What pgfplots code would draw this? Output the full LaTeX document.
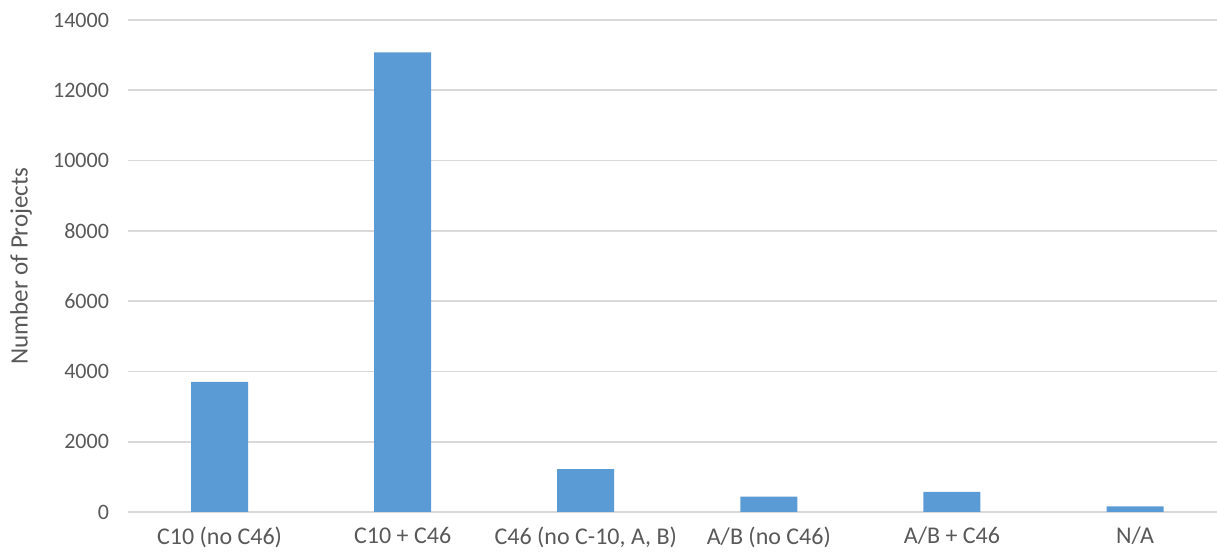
\documentclass[border=0pt]{standalone}
\usepackage{pgfplots}
\pgfplotsset{compat=1.18}
\usepackage{fontspec}
\setmainfont{Carlito}
\definecolor{barblue}{HTML}{5B9BD5}
\definecolor{txt}{HTML}{595959}
\definecolor{gridc}{HTML}{D9D9D9}
\begin{document}
\begin{tikzpicture}
\useasboundingbox (-64pt,-22.5pt) rectangle (544.5pt,256pt);
\begin{axis}[at={(0,0)}, anchor=south west, scale only axis,
  width=549.3pt, height=246pt,
  xmin=-0.5, xmax=5.5, ymin=0, ymax=14000,
  ytick={0,2000,...,14000},
  xtick=data,
  xticklabels={C10 (no C46), C10 + C46, {C46 (no C-10, A, B)}, A/B (no C46), A/B + C46, N/A},
  axis line style={draw=none},
  ymajorgrids, grid style={gridc, line width=0.8pt},
  major tick length=0pt,
  scaled y ticks=false,
  /pgf/number format/1000 sep={},
  /pgf/number format/assume math mode=true,
  yticklabel style={font=\fontsize{11}{13}\selectfont, text=txt, xshift=-6pt},
  xticklabel style={font=\fontsize{12}{14}\selectfont, text=txt, yshift=-4pt},
  ylabel={Number of Projects},
  every axis y label/.style={at={(axis description cs:0,0.5)}, rotate=90, anchor=center, yshift=53.5pt, font=\fontsize{12.5}{14}\selectfont, text=txt},
  clip=false,
]
\addplot[ybar, bar width=28.5pt, fill=barblue, draw=none] coordinates {
  (0,3700) (1,13080) (2,1220) (3,440) (4,570) (5,160)
};
\end{axis}
\end{tikzpicture}
\end{document}
